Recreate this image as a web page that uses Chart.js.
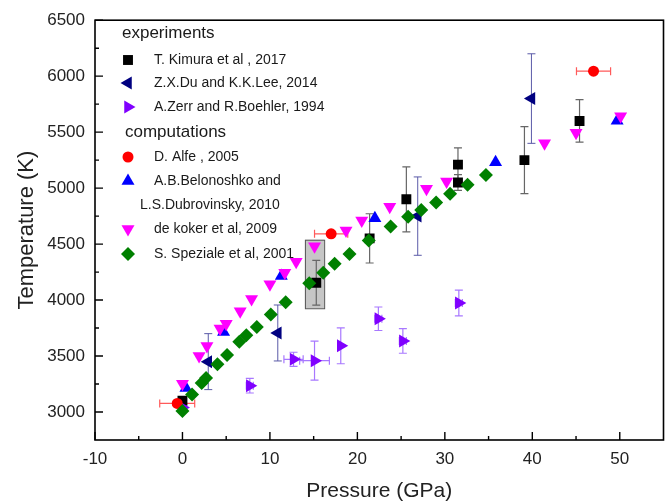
<!DOCTYPE html>
<html><head><meta charset="utf-8">
<script src="https://cdn.jsdelivr.net/npm/chart.js@4/dist/chart.umd.min.js"></script>
<style>html,body{margin:0;padding:0;background:#fff;}</style>
</head><body>
<canvas id="c" width="671" height="502"></canvas>
<script>
// ---- data (Pressure GPa, Temperature K) ----
const kimuraP = [0, 15.3, 21.4, 25.6, 31.5, 31.5, 39.1, 45.4];
const kimuraT = [3100, 4155, 4551, 4900, 5210, 5050, 5250, 5600];
const kimuraTErr = [0, 200, 220, 290, 150, 70, 300, 190];

const duP = [2.95, 10.9, 26.9, 39.9];
const duT = [3450, 3706, 4750, 5800];
const duTErr = [250, 250, 350, 400];

const zerrP = [0, 7.7, 12.7, 15.1, 18.1, 22.4, 25.2, 31.6];
const zerrT = [3040, 3235, 3471, 3459, 3591, 3833, 3635, 3974];
const zerrTErr = [0, 65, 63, 175, 160, 105, 110, 115];
const zerrPErr = [0, 0.4, 1.1, 1.7, 0, 0.4, 0.4, 0.4];

const alfeP = [-0.6, 17.0, 47.0];
const alfeT = [3077, 4592, 6045];
const alfePErr = [2.0, 1.9, 1.95];

const belP = [0.4, 4.7, 11.3, 22.0, 35.8, 49.7];
const belT = [3215, 3715, 4215, 4730, 5230, 5601];

const dekP = [0.0, 1.9, 2.8, 4.3, 5.0, 6.6, 7.9, 10.0, 11.7, 13.0, 15.1, 18.7, 20.5, 23.7, 27.9, 30.2, 41.4, 45.0, 50.1];
const dekT = [3253, 3500, 3589, 3745, 3789, 3900, 4010, 4142, 4244, 4342, 4480, 4621, 4710, 4833, 4994, 5059, 5400, 5494, 5642];

const spzP = [0, 1.1, 2.2, 2.7, 4.0, 5.1, 6.5, 7.3, 8.5, 10.1, 11.8, 14.5, 16.1, 17.4, 19.1, 21.3, 23.8, 25.8, 27.3, 29.0, 30.6, 32.6, 34.7];
const spzT = [3010, 3156, 3259, 3304, 3427, 3509, 3627, 3686, 3759, 3871, 3980, 4151, 4244, 4324, 4412, 4533, 4657, 4745, 4804, 4871, 4950, 5030, 5118];

const boxP = [14.0, 16.2];
const boxT = [3927, 4539];

const xTicks = [-10, 0, 10, 20, 30, 40, 50];
const xMinor = [-5, 5, 15, 25, 35, 45];
const yTicks = [3000, 3500, 4000, 4500, 5000, 5500, 6000, 6500];
const yMinor = [3250, 3750, 4250, 4750, 5250, 5750, 6250];

const legendHeaders = ['experiments', 'computations'];
const legendLabels = ['T. Kimura et al , 2017', 'Z.X.Du and K.K.Lee, 2014', 'A.Zerr and R.Boehler, 1994',
  'D. Alfe , 2005', 'A.B.Belonoshko and', 'de koker et al, 2009', 'S. Speziale et al, 2001'];
const legendExtra = 'L.S.Dubrovinsky, 2010';

const FONT = "'Liberation Sans', Arial, sans-serif";
const pts = (P, T) => P.map((p, i) => ({x: p, y: T[i]}));

const series = [
  {label: legendLabels[0], data: pts(kimuraP, kimuraT), color: '#000000', style: 'rect', rot: 0, r: 7},
  {label: legendLabels[1], data: pts(duP, duT), color: '#000080', style: 'triangle', rot: -90, r: 7.5},
  {label: legendLabels[2], data: pts(zerrP, zerrT), color: '#8000ff', style: 'triangle', rot: 90, r: 7.5},
  {label: legendLabels[3], data: pts(alfeP, alfeT), color: '#ff0000', style: 'circle', rot: 0, r: 5.5},
  {label: legendLabels[4], data: pts(belP, belT), color: '#0000ff', style: 'triangle', rot: 0, r: 7.5},
  {label: legendLabels[5], data: pts(dekP, dekT), color: '#ff00ff', style: 'triangle', rot: 180, r: 7.5},
  {label: legendLabels[6], data: pts(spzP, spzT), color: '#008000', style: 'rectRot', rot: 0, r: 7}
];

function marker(ctx, s, x, y) {
  ctx.save();
  ctx.fillStyle = s.color; ctx.strokeStyle = s.color;
  Chart.helpers.drawPoint(ctx, {pointStyle: s.style, rotation: s.rot, radius: s.r, borderWidth: 0}, x, y);
  ctx.restore();
}

const errorPlugin = {
  id: 'errs',
  beforeDatasetsDraw(chart) {
    const {ctx, scales: {x, y}} = chart;
    ctx.save();
    // shaded box
    const bx0 = x.getPixelForValue(boxP[0]), bx1 = x.getPixelForValue(boxP[1]);
    const by0 = y.getPixelForValue(boxT[1]), by1 = y.getPixelForValue(boxT[0]);
    ctx.fillStyle = '#c6c6c6'; ctx.fillRect(bx0, by0, bx1 - bx0, by1 - by0);
    ctx.strokeStyle = '#555'; ctx.lineWidth = 1; ctx.strokeRect(bx0 + 0.5, by0 + 0.5, bx1 - bx0, by1 - by0);
    const cap = 4;
    function vbar(p, t, e, col) {
      if (!e) return;
      const px = x.getPixelForValue(p), a = y.getPixelForValue(t + e), b = y.getPixelForValue(t - e);
      ctx.strokeStyle = col; ctx.beginPath();
      ctx.moveTo(px, a); ctx.lineTo(px, b);
      ctx.moveTo(px - cap, a); ctx.lineTo(px + cap, a);
      ctx.moveTo(px - cap, b); ctx.lineTo(px + cap, b);
      ctx.stroke();
    }
    function hbar(p, t, e, col) {
      if (!e) return;
      const py = y.getPixelForValue(t), a = x.getPixelForValue(p - e), b = x.getPixelForValue(p + e);
      ctx.strokeStyle = col; ctx.beginPath();
      ctx.moveTo(a, py); ctx.lineTo(b, py);
      ctx.moveTo(a, py - cap); ctx.lineTo(a, py + cap);
      ctx.moveTo(b, py - cap); ctx.lineTo(b, py + cap);
      ctx.stroke();
    }
    ctx.lineWidth = 1.2;
    kimuraP.forEach((p, i) => vbar(p, kimuraT[i], kimuraTErr[i], '#666'));
    ctx.lineWidth = 1;
    duP.forEach((p, i) => vbar(p, duT[i], duTErr[i], '#5a5aa8'));
    ctx.lineWidth = 1.2;
    zerrP.forEach((p, i) => { vbar(p, zerrT[i], zerrTErr[i], '#a878ff'); hbar(p, zerrT[i], zerrPErr[i], '#a878ff'); });
    alfeP.forEach((p, i) => hbar(p, alfeT[i], alfePErr[i], '#ff5a5a'));
    ctx.restore();
  },
  afterDraw(chart) {
    const {ctx, chartArea: ca, scales: {x, y}} = chart;
    ctx.save();
    ctx.strokeStyle = '#000'; ctx.lineWidth = 1.6;
    ctx.strokeRect(ca.left, ca.top, ca.right - ca.left, ca.bottom - ca.top);
    ctx.lineWidth = 1.4;
    ctx.beginPath();
    xTicks.forEach(v => { const px = x.getPixelForValue(v); ctx.moveTo(px, ca.bottom); ctx.lineTo(px, ca.bottom - 8); });
    xMinor.forEach(v => { const px = x.getPixelForValue(v); ctx.moveTo(px, ca.bottom); ctx.lineTo(px, ca.bottom - 4); });
    yTicks.forEach(v => { const py = y.getPixelForValue(v); ctx.moveTo(ca.left, py); ctx.lineTo(ca.left + 8, py); });
    yMinor.forEach(v => { const py = y.getPixelForValue(v); ctx.moveTo(ca.left, py); ctx.lineTo(ca.left + 4, py); });
    ctx.stroke();
    // legend
    ctx.fillStyle = '#1a1a1a';
    ctx.textBaseline = 'middle'; ctx.textAlign = 'left';
    ctx.font = '17px ' + FONT;
    ctx.fillText(legendHeaders[0], 122, 33);
    ctx.fillText(legendHeaders[1], 125, 132);
    const rows = [60, 83, 107, 157, 181, 229, 254];
    ctx.font = '14px ' + FONT;
    series.forEach((s, i) => {
      marker(ctx, s, 128, rows[i]);
      ctx.fillStyle = '#1a1a1a';
      ctx.fillText(s.label, 154, rows[i]);
    });
    ctx.fillText(legendExtra, 140, 205);
    ctx.restore();
  }
};

const datasets = series.map((s, i) => ({
  label: s.label, data: s.data,
  backgroundColor: s.color, borderColor: s.color, borderWidth: 0,
  pointStyle: s.style, pointRotation: s.rot, pointRadius: s.r, pointHoverRadius: s.r,
  showLine: false, order: series.length - i
}));

new Chart(document.getElementById('c'), {
  type: 'scatter',
  data: {datasets},
  options: {
    responsive: false, animation: false, devicePixelRatio: 1,
    layout: {padding: {top: 16, right: 7, left: 0, bottom: 0}},
    plugins: {legend: {display: false}, tooltip: {enabled: false}},
    scales: {
      x: {
        type: 'linear', min: -10, max: 55,
        afterFit(s) { s.height = 62; },
        afterBuildTicks(s) { s.ticks = xTicks.map(v => ({value: v})); },
        grid: {display: false, drawTicks: false}, border: {display: false},
        ticks: {padding: 9, color: '#222', font: {family: FONT, size: 17}, autoSkip: false, maxRotation: 0,
          callback: v => String(v)},
        title: {display: true, text: 'Pressure (GPa)', color: '#222', font: {family: FONT, size: 21, lineHeight: 1}, padding: {top: 0, bottom: 0}}
      },
      y: {
        type: 'linear', min: 2750, max: 6500,
        afterFit(s) { s.width = 95; },
        afterBuildTicks(s) { s.ticks = yTicks.map(v => ({value: v})); },
        grid: {display: false, drawTicks: false}, border: {display: false},
        ticks: {padding: 10, color: '#222', font: {family: FONT, size: 17}, autoSkip: false,
          callback: v => String(v)},
        title: {display: true, text: 'Temperature (K)', color: '#222', font: {family: FONT, size: 22, lineHeight: 1}, padding: {top: 16, bottom: 0}}
      }
    }
  },
  plugins: [errorPlugin]
});
</script>
</body></html>
